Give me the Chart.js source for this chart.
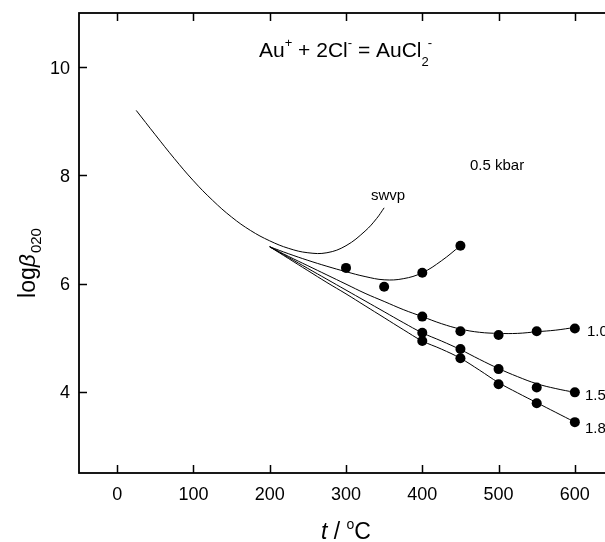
<!DOCTYPE html>
<html>
<head>
<meta charset="utf-8">
<script src="https://cdn.jsdelivr.net/npm/chart.js@4.4.0/dist/chart.umd.min.js"></script>
<style>
  html, body { margin: 0; padding: 0; background: #fff; overflow: hidden; }
  #wrap { width: 630px; height: 542px; }
</style>
</head>
<body>
<div id="wrap"><canvas id="c" width="630" height="542"></canvas></div>
<script>
// axis ticks
const xTicks = [0, 100, 200, 300, 400, 500, 600];
const yTicks = [4, 6, 8, 10];

// saturated water vapour pressure curve
const swvpT = [25, 50, 75, 100, 125, 150, 175, 200, 225, 250, 275, 300, 325, 340, 350];
const swvpLogB = [9.20, 8.75, 8.31, 7.90, 7.54, 7.23, 6.98, 6.79, 6.65, 6.57, 6.57, 6.70, 6.97, 7.20, 7.40];

// fitted isobars (start at 200 C)
const fitT = [200, 225, 250, 275, 300, 325, 350, 375, 400, 425, 450, 475, 500, 525, 550, 575, 600];
const fit05 = [6.68, 6.55, 6.43, 6.32, 6.22, 6.13, 6.07, 6.09, 6.20, 6.42, 6.70];
const fit10 = [6.68, 6.50, 6.33, 6.16, 5.99, 5.82, 5.67, 5.52, 5.39, 5.26, 5.16, 5.10, 5.08, 5.08, 5.11, 5.14, 5.19];
const fit15 = [6.68, 6.48, 6.28, 6.08, 5.88, 5.68, 5.48, 5.28, 5.09, 4.94, 4.78, 4.60, 4.43, 4.28, 4.15, 4.06, 3.99];
const fit18 = [6.68, 6.46, 6.24, 6.02, 5.81, 5.59, 5.37, 5.15, 4.94, 4.79, 4.62, 4.40, 4.17, 3.98, 3.80, 3.62, 3.44];

// experimental points
const exp05T = [300, 350, 400, 450];
const exp05 = [6.29, 5.94, 6.20, 6.70];
const expT = [400, 450, 500, 550, 600];
const exp10 = [5.39, 5.12, 5.05, 5.12, 5.17];
const exp15 = [5.09, 4.79, 4.42, 4.08, 3.99];
const exp18 = [4.94, 4.62, 4.14, 3.79, 3.44];

function pts(xs, ys) {
  return ys.map((v, i) => ({ x: xs[i], y: v }));
}

function lineSet(xs, ys) {
  return {
    data: pts(xs, ys),
    showLine: true,
    borderColor: '#000',
    borderWidth: 1,
    pointRadius: 0,
    tension: 0.4,
    fill: false
  };
}

function dotSet(xs, ys) {
  return {
    data: pts(xs, ys),
    showLine: false,
    pointRadius: 5,
    pointBackgroundColor: '#000',
    pointBorderColor: '#000',
    pointBorderWidth: 0
  };
}

const FONT = '"Liberation Sans", Arial, Helvetica, sans-serif';

// draws text made of pieces (normal / super / sub)
function drawRich(ctx, x, y, parts, align) {
  let total = 0;
  parts.forEach(p => { ctx.font = p.font; total += ctx.measureText(p.t).width + (p.gap || 0); });
  let cx = align === 'center' ? x - total / 2 : x;
  parts.forEach(p => {
    ctx.font = p.font;
    ctx.fillText(p.t, cx, y + (p.dy || 0));
    cx += ctx.measureText(p.t).width + (p.gap || 0);
  });
}

const axesPlugin = {
  id: 'axesPlugin',
  afterDraw(chart) {
    const ctx = chart.ctx;
    const a = chart.chartArea;
    const xs = chart.scales.x, ys = chart.scales.y;
    ctx.save();
    ctx.strokeStyle = '#000';
    ctx.fillStyle = '#000';
    ctx.lineWidth = 1.8;
    ctx.strokeRect(a.left, a.top, a.right - a.left, a.bottom - a.top);

    ctx.lineWidth = 1.5;
    const tl = 8;
    ctx.beginPath();
    xTicks.forEach(t => {
      const px = Math.round(xs.getPixelForValue(t)) + 0.5;
      ctx.moveTo(px, a.bottom); ctx.lineTo(px, a.bottom - tl);
      ctx.moveTo(px, a.top); ctx.lineTo(px, a.top + tl);
    });
    yTicks.forEach(v => {
      const py = Math.round(ys.getPixelForValue(v)) + 0.5;
      ctx.moveTo(a.left, py); ctx.lineTo(a.left + tl, py);
      ctx.moveTo(a.right, py); ctx.lineTo(a.right - tl, py);
    });
    ctx.stroke();

    // tick labels
    ctx.font = '18px ' + FONT;
    ctx.textBaseline = 'alphabetic';
    ctx.textAlign = 'center';
    xTicks.forEach(t => ctx.fillText(String(t), xs.getPixelForValue(t), a.bottom + 27));
    ctx.textAlign = 'right';
    yTicks.forEach(v => ctx.fillText(String(v), a.left - 9, ys.getPixelForValue(v) + 6.5));

    // x axis title
    ctx.textAlign = 'left';
    drawRich(ctx, 346, 539, [
      { t: 't', font: 'italic 23px ' + FONT },
      { t: ' / ', font: '23px ' + FONT },
      { t: 'o', font: '14px ' + FONT, dy: -10 },
      { t: 'C', font: '23px ' + FONT }
    ], 'center');

    // y axis title
    ctx.save();
    ctx.translate(35, 263);
    ctx.rotate(-Math.PI / 2);
    drawRich(ctx, 0, 0, [
      { t: 'log', font: '23px ' + FONT },
      { t: 'β', font: 'italic 23px ' + FONT, gap: 1 },
      { t: '020', font: '15px ' + FONT, dy: 6 }
    ], 'center');
    ctx.restore();

    // reaction label
    drawRich(ctx, 259, 57, [
      { t: 'Au', font: '21px ' + FONT },
      { t: '+', font: '13px ' + FONT, dy: -10 },
      { t: ' + 2Cl', font: '21px ' + FONT },
      { t: '-', font: '13px ' + FONT, dy: -10 },
      { t: ' = AuCl', font: '21px ' + FONT },
      { t: '2', font: '13px ' + FONT, dy: 9, gap: -1 },
      { t: '-', font: '13px ' + FONT, dy: -10 }
    ], 'left');

    // curve labels
    ctx.font = '15px ' + FONT;
    ctx.fillText('0.5 kbar', 470, 170);
    ctx.fillText('swvp', 371, 200);
    ctx.fillText('1.0', 587, 336);
    ctx.fillText('1.5', 585, 400);
    ctx.fillText('1.8', 585, 433);
    ctx.restore();
  }
};

new Chart(document.getElementById('c'), {
  type: 'scatter',
  data: {
    datasets: [
      lineSet(swvpT, swvpLogB),
      lineSet(fitT.slice(0, fit05.length), fit05),
      lineSet(fitT, fit10),
      lineSet(fitT, fit15),
      lineSet(fitT, fit18),
      dotSet(exp05T, exp05),
      dotSet(expT, exp10),
      dotSet(expT, exp15),
      dotSet(expT, exp18)
    ]
  },
  options: {
    responsive: false,
    animation: false,
    layout: { padding: { left: 79, top: 13, right: 17, bottom: 69 } },
    scales: {
      x: { type: 'linear', min: -50, max: 650, display: false },
      y: { type: 'linear', min: 2.5, max: 11, display: false }
    },
    plugins: { legend: { display: false }, tooltip: { enabled: false } }
  },
  plugins: [axesPlugin]
});
</script>
</body>
</html>
